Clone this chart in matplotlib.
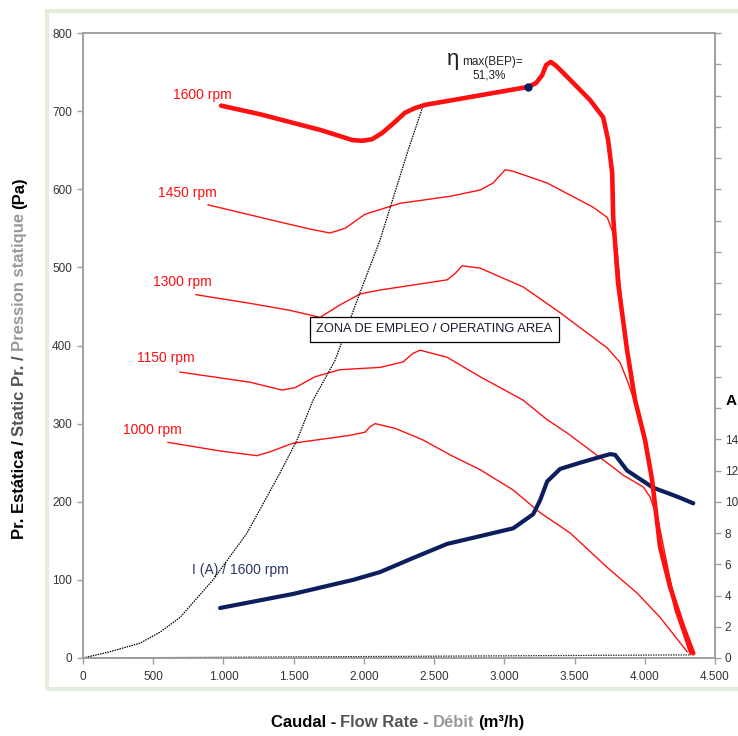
import matplotlib
matplotlib.use("Agg")
import matplotlib.pyplot as plt
from matplotlib.patches import Rectangle
from matplotlib.ticker import FuncFormatter, MultipleLocator

plt.rcParams["font.family"] = ["Liberation Sans", "DejaVu Sans"]

# caudal (m3/h) / presion estatica (Pa)
q_1600 = [983, 1261, 1474, 1688, 1830, 1916, 1987, 2058, 2130, 2208, 2293, 2365, 2436,
          2756, 3169, 3226, 3269, 3298, 3330, 3369, 3469, 3611, 3704, 3739, 3768, 3775,
          3810, 3874, 3931, 4002, 4052, 4109, 4180, 4273, 4345]
p_1600 = [707, 696, 686, 676, 668, 663, 662, 664, 672, 684, 698, 704, 708,
          718, 731, 736, 746, 759, 763, 758, 740, 714, 692, 663, 621, 564,
          480, 394, 330, 279, 228, 142, 91, 40, 6]

q_1450 = [890, 1403, 1617, 1759, 1866, 2008, 2258, 2614, 2828, 2920, 3006, 3063, 3305,
          3632, 3732, 3775, 3803, 3853, 3938, 4024, 4109, 4216, 4330]
p_1450 = [580, 558, 549, 544, 550, 568, 582, 591, 599, 608, 625, 623, 608,
          577, 564, 544, 522, 420, 324, 253, 151, 74, 6]

q_1300 = [805, 1189, 1474, 1688, 1830, 1973, 2115, 2592, 2649, 2699, 2828, 3134, 3397,
          3732, 3825, 3882, 3924, 4010, 4095, 4195, 4323]
p_1300 = [465, 454, 445, 436, 452, 466, 471, 484, 492, 502, 499, 475, 442,
          397, 378, 352, 330, 273, 177, 87, 6]

q_1150 = [691, 1189, 1417, 1510, 1652, 1830, 2115, 2279, 2350, 2400, 2592, 2828, 3134,
          3305, 3447, 3611, 3775, 3846, 3989, 4038, 4074, 4131, 4216, 4323]
p_1150 = [366, 353, 343, 346, 360, 369, 372, 379, 390, 394, 385, 360, 330,
          305, 288, 266, 244, 234, 219, 206, 187, 125, 61, 5]

q_1000 = [605, 976, 1239, 1332, 1496, 1902, 2008, 2044, 2080, 2222, 2422, 2614, 2828,
          3063, 3255, 3469, 3732, 3946, 4109, 4302]
p_1000 = [276, 265, 259, 264, 275, 285, 289, 296, 300, 294, 279, 260, 241,
          215, 186, 160, 116, 83, 52, 8]

# intensidad (A) a 1600 rpm
q_amp = [976, 1496, 1923, 2115, 2350, 2592, 2828, 3063, 3205, 3255, 3305, 3397, 3540,
         3753, 3789, 3874, 4059, 4180, 4252, 4345]
i_amp = [3.2, 4.1, 5.0, 5.5, 6.4, 7.3, 7.8, 8.3, 9.2, 10.1, 11.3, 12.1, 12.5,
         13.05, 13.0, 12.0, 10.9, 10.5, 10.25, 9.9]

# curva de instalacion (limite zona de empleo)
q_sys = [0, 192, 406, 548, 691, 926, 1168, 1403, 1524, 1638, 1795, 1952, 2115, 2315, 2422]
p_sys = [0, 8, 19, 33, 52, 100, 160, 237, 279, 330, 381, 458, 535, 650, 707]
q_base = [0, 4330]
p_base = [0, 4]

bep_q, bep_p = 3169, 731

rpm_labels = ["1600 rpm", "1450 rpm", "1300 rpm", "1150 rpm", "1000 rpm"]
label_q = [641, 534, 499, 385, 285]
label_p = [720, 595, 481, 384, 292]

RED = "#ff1010"
NAVY = "#0c1f5c"

fig = plt.figure(figsize=(7.38, 7.36), dpi=100)
# marco verde claro
fig.patches.append(Rectangle((47 / 738, (736 - 689) / 736), 700 / 738, 678 / 736,
                             transform=fig.transFigure, fill=False,
                             ec="#e4eddb", lw=3, zorder=0))

ax = fig.add_axes([83 / 738, 78 / 736, 632 / 738, 625 / 736])
ax2 = ax.twinx()

for q, p in [(q_1450, p_1450), (q_1300, p_1300), (q_1150, p_1150), (q_1000, p_1000)]:
    ax.plot(q, p, color=RED, lw=1.0, solid_joinstyle="round", zorder=3)

ax.plot(q_sys, p_sys, color="black", lw=0.9, ls=(0, (1.2, 0.8)), zorder=4)
ax.plot(q_base, p_base, color="#333333", lw=0.9, ls=(0, (1.2, 0.8)), zorder=4)

ax2.plot(q_amp, i_amp, color=NAVY, lw=3.0, solid_capstyle="round",
         solid_joinstyle="round", zorder=3)
ax2.plot(q_1600, [p / 20 for p in p_1600], color=RED, lw=3.3,
         solid_capstyle="round", solid_joinstyle="round", zorder=5)
ax2.plot([bep_q], [bep_p / 20], "o", color=NAVY, ms=5, zorder=6)

ax.set_xlim(0, 4500)
ax.set_ylim(0, 800)
ax2.set_ylim(0, 40)
ax.xaxis.set_major_locator(MultipleLocator(500))
ax.yaxis.set_major_locator(MultipleLocator(100))
ax2.yaxis.set_major_locator(MultipleLocator(2))
ax.xaxis.set_major_formatter(FuncFormatter(lambda v, _: f"{int(v):,}".replace(",", ".")))
ax2.yaxis.set_major_formatter(FuncFormatter(lambda v, _: f"{int(v)}" if v <= 14 else ""))

for a in (ax, ax2):
    for s in a.spines.values():
        s.set_color("#a0a0a0")
        s.set_linewidth(1.2)
ax.tick_params(axis="both", colors="#a0a0a0", labelcolor="#333333", labelsize=8.5,
               length=4, width=1)
ax.tick_params(axis="y", pad=4)
ax.tick_params(axis="x", pad=5)
ax2.tick_params(axis="y", colors="#a0a0a0", labelcolor="#333333", labelsize=8.5,
                length=4, width=1, pad=3)

for txt, q, p in zip(rpm_labels, label_q, label_p):
    ax.text(q, p, txt, color=RED, fontsize=10, ha="left", va="center")
ax.text(776, 113, "I (A) / 1600 rpm", color="#2a3868", fontsize=10, ha="left", va="center")

ax.text(2500, 421, "ZONA DE EMPLEO / OPERATING AREA", color="#1a1a2e", fontsize=9.3,
        ha="center", va="center", zorder=7,
        bbox=dict(boxstyle="square,pad=0.5", fc="white", ec="black", lw=0.9))

# eta max (BEP)
fig.text(453 / 738, (736 - 59) / 736, "η", fontsize=16, ha="center", va="center",
         color="#222222")
fig.text(462 / 738, (736 - 62) / 736, "max(BEP)=", fontsize=8.5, ha="left", va="center",
         color="#222222")
fig.text(489 / 738, (736 - 76) / 736, "51,3%", fontsize=8.5, ha="center", va="center",
         color="#222222")

fig.text(726 / 738, (736 - 401) / 736, "A", fontsize=11, fontweight="bold",
         ha="left", va="center")

# titulos de ejes con varios colores
lab_font = dict(fontsize=12, fontweight="bold", family=["Liberation Sans Narrow", "Liberation Sans"])
renderer = fig.canvas.get_renderer()
gap = 4


def piece_sizes(pieces, rot):
    sizes = []
    for s, c in pieces:
        t = fig.text(0, 0, s, rotation=rot, **lab_font)
        bb = t.get_window_extent(renderer)
        sizes.append(bb.height if rot else bb.width)
        t.remove()
    return sizes


x_pieces = [("Caudal -", "black"), ("Flow Rate -", "#555555"), ("Débit", "#999999"),
            ("(m³/h)", "black")]
sizes = piece_sizes(x_pieces, 0)
xpix = 398 - (sum(sizes) + gap * (len(sizes) - 1)) / 2
for (s, c), w in zip(x_pieces, sizes):
    fig.text(xpix / 738, (736 - 727) / 736, s, color=c, ha="left", va="baseline", **lab_font)
    xpix += w + gap

y_pieces = [("Pr. Estática /", "black"), ("Static Pr. /", "#555555"),
            ("Pression statique", "#999999"), ("(Pa)", "black")]
sizes = piece_sizes(y_pieces, 90)
ypix = 736 - 358 - (sum(sizes) + gap * (len(sizes) - 1)) / 2
for (s, c), h in zip(y_pieces, sizes):
    fig.text(24 / 738, ypix / 736, s, color=c, rotation=90, rotation_mode="anchor",
             ha="left", va="baseline", **lab_font)
    ypix += h + gap

fig.savefig("out.png", dpi=100)
